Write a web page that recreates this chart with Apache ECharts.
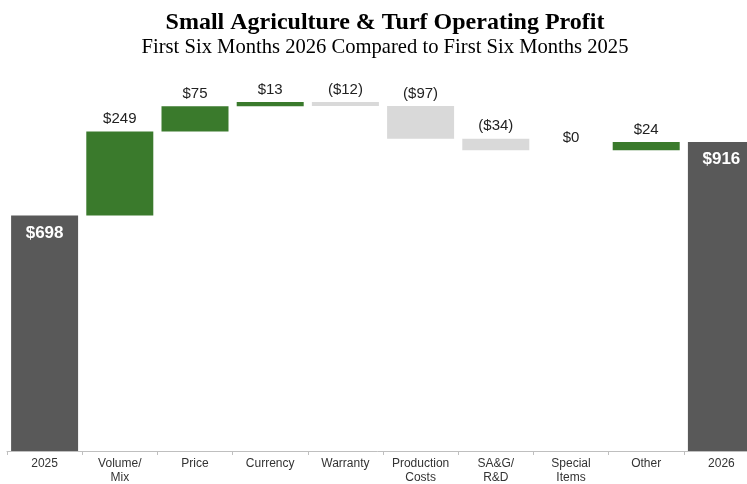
<!DOCTYPE html>
<html><head><meta charset="utf-8">
<script src="https://cdn.jsdelivr.net/npm/echarts@6/dist/echarts.min.js"></script>
<style>html,body{margin:0;padding:0;background:#fff}#c{width:747px;height:484px}</style>
</head><body><div id="c"></div>
<script>
const categories = ['2025','Volume/\nMix','Price','Currency','Warranty','Production\nCosts','SA&G/\nR&D','Special\nItems','Other','2026'];
const deltas = [698, 249, 75, 13, -12, -97, -34, 0, 24, 916];
const isTotal = [true, false, false, false, false, false, false, false, false, true];

const GREEN = '#3a7a2c', GRAY = '#595959', LIGHT = '#d9d9d9';
let run = 0;
const baseData = [], barData = [];
deltas.forEach((d, i) => {
  if (isTotal[i]) {
    baseData.push(0);
    barData.push({value: d, itemStyle: {color: GRAY},
      label: {position: 'insideTop', distance: 9, color: '#fff', fontWeight: 'bold', fontSize: 17}});
    run = d;
  } else {
    const lo = d >= 0 ? run : run + d;
    baseData.push(lo);
    barData.push({value: Math.abs(d), itemStyle: {color: d > 0 ? GREEN : (d < 0 ? LIGHT : 'transparent')}});
    run += d;
  }
});
const fmt = (i) => { const d = deltas[i]; return d < 0 ? '($' + Math.abs(d) + ')' : '$' + d; };

const chart = echarts.init(document.getElementById('c'));
chart.setOption({
  animation: false,
  title: {
    text: 'Small Agriculture & Turf Operating Profit',
    subtext: 'First Six Months 2026 Compared to First Six Months 2025',
    left: 380, textAlign: 'center', top: 6, itemGap: 2,
    textStyle: {fontFamily: 'Liberation Serif', fontWeight: 'bold', fontSize: 24, color: '#000'},
    subtextStyle: {fontFamily: 'Liberation Serif', fontSize: 20.6, color: '#000'}
  },
  grid: {left: 7, width: 752, top: 80, bottom: 33, containLabel: false, outerBoundsMode: 'none'},
  xAxis: {
    type: 'category', data: categories,
    axisLine: {lineStyle: {color: '#bfbfbf', width: 1}},
    axisTick: {show: true, length: 4, lineStyle: {color: '#bfbfbf'}},
    axisLabel: {color: '#333', fontFamily: 'Liberation Sans', fontSize: 12, lineHeight: 14, margin: 6, interval: 0}
  },
  yAxis: {type: 'value', min: 0, max: 1100, show: false, splitLine: {show: false}},
  series: [
    {type: 'bar', stack: 'w', data: baseData, barWidth: 67, itemStyle: {color: 'transparent'}, silent: true},
    {type: 'bar', stack: 'w', data: barData, barWidth: 67,
      label: {show: true, position: 'top', distance: 5, fontFamily: 'Liberation Sans', fontSize: 15, color: '#222',
        formatter: p => fmt(p.dataIndex)}}
  ]
});
</script></body></html>
